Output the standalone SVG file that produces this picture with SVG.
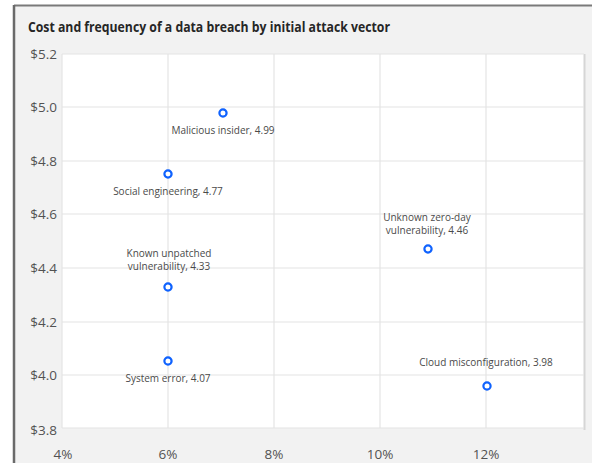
<svg xmlns="http://www.w3.org/2000/svg" width="595" height="463" viewBox="0 0 595 463">
  <style>
    .title { font-family: "Open Sans", "Liberation Sans", sans-serif; font-size: 13.5px; font-weight: bold; fill: #262626; }
    .tick { font-family: "Open Sans", "Liberation Sans", sans-serif; font-size: 13.5px; fill: #525252; }
    .lbl { font-family: "Open Sans", "Liberation Sans", sans-serif; font-size: 10px; fill: #4a4a4a; text-anchor: middle; }
    .grid { stroke: #e4e4e4; stroke-width: 1.2; fill: none; }
    .pt { fill: #ffffff; stroke: #0f62fe; stroke-width: 2.2; }
  </style>

  <!-- page and card frame -->
  <rect x="0" y="0" width="595" height="463" fill="#ffffff"/>
  <rect x="14" y="6" width="578" height="457" fill="#f2f2f2"/>
  <line x1="14" y1="5.5" x2="592" y2="5.5" stroke="#7a7a7a" stroke-width="2"/>
  <line x1="14" y1="5" x2="14" y2="463" stroke="#6a6a6a" stroke-width="2.5"/>

  <text class="title" x="28" y="32" textLength="362" lengthAdjust="spacingAndGlyphs">Cost and frequency of a data breach by initial attack vector</text>

  <!-- plot area -->
  <rect x="62" y="54" width="522" height="374" fill="#ffffff"/>
  <line x1="584.5" y1="54" x2="584.5" y2="430" stroke="#d6d6d6" stroke-width="2"/>

  <g id="grid" class="grid">
    <line x1="62" y1="54" x2="584" y2="54"/>
    <line x1="62" y1="107" x2="584" y2="107"/>
    <line x1="62" y1="161" x2="584" y2="161"/>
    <line x1="62" y1="214" x2="584" y2="214"/>
    <line x1="62" y1="268" x2="584" y2="268"/>
    <line x1="62" y1="322" x2="584" y2="322"/>
    <line x1="62" y1="375" x2="584" y2="375"/>
    <line x1="62" y1="428" x2="584" y2="428"/>
    <line x1="62" y1="54" x2="62" y2="428"/>
    <line x1="168" y1="54" x2="168" y2="428"/>
    <line x1="274" y1="54" x2="274" y2="428"/>
    <line x1="380" y1="54" x2="380" y2="428"/>
    <line x1="486" y1="54" x2="486" y2="428"/>
  </g>

  <!-- axis ticks -->
  <g id="y-axis" class="tick" text-anchor="end">
    <text x="57" y="59">$5.2</text>
    <text x="57" y="112">$5.0</text>
    <text x="57" y="166">$4.8</text>
    <text x="57" y="219">$4.6</text>
    <text x="57" y="273">$4.4</text>
    <text x="57" y="327">$4.2</text>
    <text x="57" y="380">$4.0</text>
    <text x="57" y="435">$3.8</text>
  </g>
  <g id="x-axis" class="tick" text-anchor="middle">
    <text x="63" y="459">4%</text>
    <text x="168" y="459">6%</text>
    <text x="274" y="459">8%</text>
    <text x="380" y="459">10%</text>
    <text x="486" y="459">12%</text>
  </g>

  <!-- data points -->
  <g id="malicious-insider">
    <circle class="pt" cx="223" cy="113" r="3.6"/>
    <text class="lbl" x="223" y="134">Malicious insider, 4.99</text>
  </g>
  <g id="social-engineering">
    <circle class="pt" cx="168" cy="174" r="3.6"/>
    <text class="lbl" x="168" y="195">Social engineering, 4.77</text>
  </g>
  <g id="known-unpatched">
    <circle class="pt" cx="168" cy="287" r="3.6"/>
    <text class="lbl" x="169" y="257">Known unpatched</text>
    <text class="lbl" x="169" y="270">vulnerability, 4.33</text>
  </g>
  <g id="system-error">
    <circle class="pt" cx="168" cy="361" r="3.6"/>
    <text class="lbl" x="168" y="382">System error, 4.07</text>
  </g>
  <g id="unknown-zero-day">
    <circle class="pt" cx="428" cy="249" r="3.6"/>
    <text class="lbl" x="427" y="221">Unknown zero-day</text>
    <text class="lbl" x="427" y="234">vulnerability, 4.46</text>
  </g>
  <g id="cloud-misconfiguration">
    <circle class="pt" cx="487" cy="386" r="3.6"/>
    <text class="lbl" x="486" y="366">Cloud misconfiguration, 3.98</text>
  </g>
</svg>
